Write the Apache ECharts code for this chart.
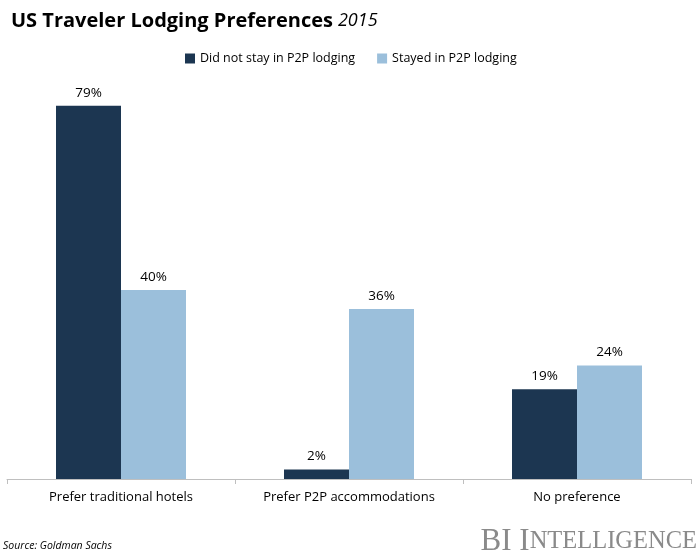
<!DOCTYPE html>
<html><head><meta charset="utf-8">
<script src="https://cdn.jsdelivr.net/npm/echarts@6/dist/echarts.min.js"></script>
<style>html,body{margin:0;padding:0;background:#fff}#c{width:700px;height:560px}</style>
</head><body><div id="c"></div>
<script>
var categories = ["Prefer traditional hotels", "Prefer P2P accommodations", "No preference"];
var seriesNames = ["Did not stay in P2P lodging", "Stayed in P2P lodging"];
var notStayed = [79, 2, 19];
var stayed = [40, 36, 24];
var colors = ["#1c3651", "#9bbfdb"];
var F = "'Open Sans', 'Noto Sans', sans-serif";
var chart = echarts.init(document.getElementById('c'));
chart.setOption({
  animation: false,
  title: {
    left: 6, top: 6,
    text: "{b|US Traveler Lodging Preferences} {i|2015}",
    textStyle: { fontWeight: "normal", rich: {
      b: { fontFamily: F, fontSize: 20, fontWeight: "bold", color: "#000" },
      i: { fontFamily: F, fontSize: 18, fontStyle: "italic", fontWeight: "normal", color: "#000" }
    } }
  },
  legend: {
    top: 47, left: 180, itemWidth: 10, itemHeight: 10, itemGap: 22,
    icon: "rect",
    textStyle: { fontFamily: F, fontSize: 12.5, color: "#000" },
    data: seriesNames
  },
  grid: { left: 7, right: 9, top: 101, bottom: 81 },
  xAxis: {
    type: "category", data: categories,
    axisLine: { lineStyle: { color: "#bfbfbf" } },
    axisTick: { show: true, length: 5, lineStyle: { color: "#bfbfbf" } },
    axisLabel: { fontFamily: F, fontSize: 13, color: "#000", margin: 12 }
  },
  yAxis: { type: "value", min: 0, max: 80, show: false, splitLine: { show: false } },
  series: [
    { name: seriesNames[0], type: "bar", data: notStayed, barWidth: 65, barGap: "0%",
      itemStyle: { color: colors[0] },
      label: { show: true, position: "top", distance: 6, formatter: "{c}%", fontFamily: F, fontSize: 13.5, color: "#000" } },
    { name: seriesNames[1], type: "bar", data: stayed, barWidth: 65, barGap: "0%",
      itemStyle: { color: colors[1] },
      label: { show: true, position: "top", distance: 6, formatter: "{c}%", fontFamily: F, fontSize: 13.5, color: "#000" } }
  ],
  graphic: [
    { type: "text", left: 3, top: 541,
      style: { text: "Source: Goldman Sachs", font: "italic 10.5px " + F, fill: "#000" } },
    { type: "text", right: 3, top: 526,
      style: { text: "{a|BI I}{b|NTELLIGENCE}", fill: "#8a8a8a",
        rich: { a: { fontFamily: "'Liberation Serif', 'DejaVu Serif', serif", fontSize: 31, color: "#8a8a8a" },
                b: { fontFamily: "'Liberation Serif', 'DejaVu Serif', serif", fontSize: 24.5, color: "#8a8a8a" } } } }
  ]
});
</script></body></html>
